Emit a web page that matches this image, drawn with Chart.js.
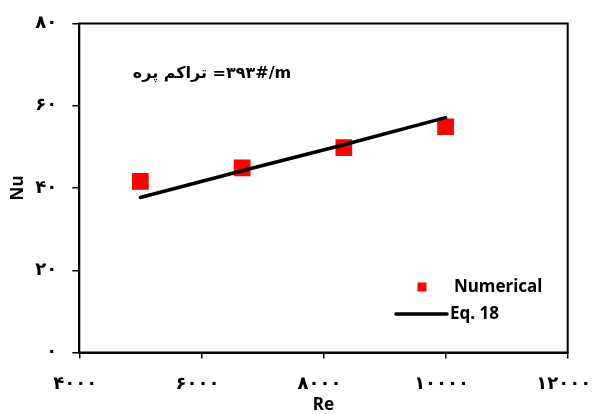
<!DOCTYPE html>
<html>
<head>
<meta charset="utf-8">
<script src="https://cdn.jsdelivr.net/npm/chart.js@4/dist/chart.umd.min.js"></script>
<style>
  html, body { margin: 0; padding: 0; background: #fff; }
  #chart { display: block; }
</style>
</head>
<body>
<canvas id="chart" width="593" height="414"></canvas>
<script>
// --- dados ---
const reValues = [5000, 6667, 8333, 10000];
const nuNumerical = [41.6, 44.9, 49.8, 54.9];
const nuEq18 = [37.7, 44.2, 50.5, 57.1];

const xTickLabels = ['۴۰۰۰', '۶۰۰۰', '۸۰۰۰', '۱۰۰۰۰', '۱۲۰۰۰'];
const yTickLabels = ['۰', '۲۰', '۴۰', '۶۰', '۸۰'];

const seriesNames = ['Numerical', 'Eq. 18'];
// LRM antes dos números para manter a ordem visual do original
const annotationText = 'تراکم پره =\u200E۳۹۳#/m';

const latinFont = "'Noto Sans', 'DejaVu Sans', sans-serif";
const persianFont = "'DejaVu Sans', sans-serif";

// caixa em volta da área do gráfico (topo e direita)
const boxPlugin = {
    id: 'box',
    beforeDatasetsDraw(chart) {
        const { ctx, chartArea: a } = chart;
        ctx.save();
        ctx.strokeStyle = '#000';
        ctx.lineWidth = 2;
        ctx.strokeRect(a.left, a.top, a.right - a.left, a.bottom - a.top);
        ctx.restore();
    }
};

// texto e legenda dentro do gráfico
const overlayPlugin = {
    id: 'overlay',
    afterDraw(chart) {
        const ctx = chart.ctx;
        const ds = chart.data.datasets;
        ctx.save();
        ctx.fillStyle = '#000';
        ctx.direction = 'ltr';
        ctx.textBaseline = 'middle';

        // texto persa
        ctx.font = `bold 16px ${persianFont}`;
        ctx.textAlign = 'center';
        ctx.fillText(annotationText, 212, 74);

        // legenda
        ctx.font = `bold 17px ${latinFont}`;
        ctx.textAlign = 'left';
        ctx.fillStyle = ds[0].backgroundColor;
        ctx.fillRect(417.5, 282.5, 9, 9);
        ctx.fillStyle = '#000';
        ctx.fillText(ds[0].label, 454, 287);

        ctx.strokeStyle = ds[1].borderColor;
        ctx.lineWidth = 3.5;
        ctx.lineCap = 'round';
        ctx.beginPath();
        ctx.moveTo(396, 314);
        ctx.lineTo(447, 314);
        ctx.stroke();
        ctx.fillText(ds[1].label, 450, 314);
        ctx.restore();
    }
};

new Chart(document.getElementById('chart'), {
    type: 'scatter',
    data: {
        datasets: [
            {
                label: seriesNames[0],
                data: reValues.map((x, i) => ({ x, y: nuNumerical[i] })),
                pointStyle: 'rect',
                pointRadius: 11.8,
                pointHoverRadius: 11.8,
                backgroundColor: '#ff0000',
                borderColor: '#ff0000',
                borderWidth: 0,
                order: 1
            },
            {
                label: seriesNames[1],
                data: reValues.map((x, i) => ({ x, y: nuEq18[i] })),
                showLine: true,
                pointRadius: 0,
                borderColor: '#000',
                borderWidth: 3.5,
                borderCapStyle: 'round',
                fill: false,
                order: 0
            }
        ]
    },
    options: {
        responsive: false,
        animation: false,
        layout: { padding: { top: 23.5, right: 25.3, left: 0, bottom: 0 } },
        plugins: {
            legend: { display: false },
            tooltip: { enabled: false }
        },
        scales: {
            x: {
                type: 'linear',
                min: 4000,
                max: 12000,
                afterFit: s => { s.height = 61.5; s.paddingLeft = 0; s.paddingRight = 0; },
                border: { display: true, color: '#000', width: 2 },
                grid: { drawOnChartArea: false, drawTicks: true, tickLength: 6, color: '#000', lineWidth: 1.5 },
                ticks: {
                    stepSize: 2000,
                    autoSkip: false,
                    maxRotation: 0,
                    padding: 15,
                    labelOffset: -4,
                    color: '#000',
                    font: { family: persianFont, size: 18, weight: 'bold' },
                    callback: (v, i) => xTickLabels[i]
                },
                title: {
                    display: true,
                    text: 'Re',
                    color: '#000',
                    padding: { top: 0, bottom: 0 },
                    font: { family: latinFont, size: 17, weight: 'bold', lineHeight: 1 }
                }
            },
            y: {
                min: 0,
                max: 80,
                afterFit: s => { s.width = 79.3; s.paddingTop = 0; s.paddingBottom = 0; },
                border: { display: true, color: '#000', width: 2 },
                grid: { drawOnChartArea: false, drawTicks: true, tickLength: 7, color: '#000', lineWidth: 1.5 },
                ticks: {
                    stepSize: 20,
                    padding: 15,
                    color: '#000',
                    font: { family: persianFont, size: 18, weight: 'bold' },
                    callback: (v, i) => yTickLabels[i]
                },
                title: {
                    display: true,
                    text: 'Nu',
                    color: '#000',
                    padding: { top: 10, bottom: 0 },
                    font: { family: latinFont, size: 17, weight: 'bold', lineHeight: 1 }
                }
            }
        }
    },
    plugins: [boxPlugin, overlayPlugin]
});
</script>
</body>
</html>
